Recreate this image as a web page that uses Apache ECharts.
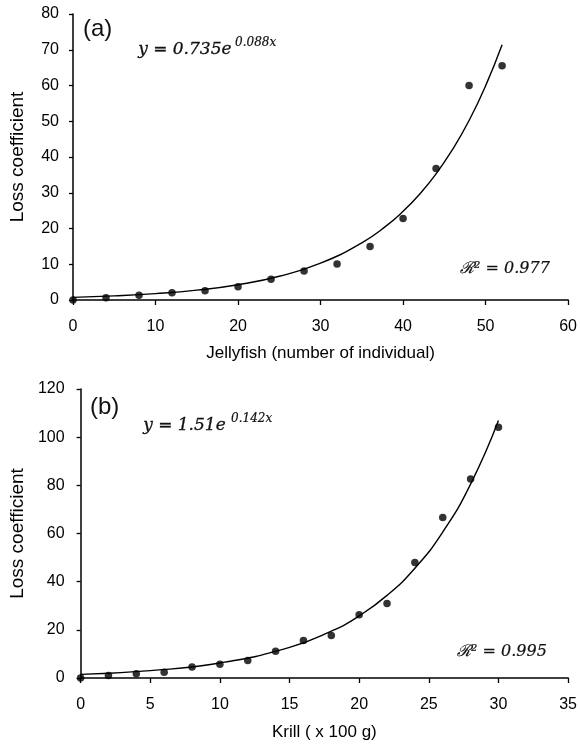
<!DOCTYPE html>
<html>
<head>
<meta charset="utf-8">
<style>
  html, body { margin: 0; padding: 0; background: #fff; }
  #chart { width: 580px; height: 749px; }
</style>
</head>
<body>
<div id="chart"></div>
<script src="https://cdn.jsdelivr.net/npm/echarts@6/dist/echarts.min.js"></script>
<script>
// (a) jellyfish
var jellyX = [0, 4, 8, 12, 16, 20, 24, 28, 32, 36, 40, 44, 48, 52];
var jellyY = [0, 0.65, 1.3, 2.05, 2.6, 3.7, 5.8, 8.1, 10.1, 15.0, 22.8, 36.8, 60.0, 65.5];
// fitted curve
var jellyFitX = [0, 5, 10, 15, 20, 25, 30, 35, 38, 40, 42, 44, 46, 48, 50, 52];
var jellyFitY = [0.74, 1.14, 1.77, 2.75, 4.27, 6.63, 10.3, 16.0, 20.8, 24.8, 29.6, 35.3, 42.1, 50.2, 59.9, 71.4];

// (b) krill
var krillX = [0, 2, 4, 6, 8, 10, 12, 14, 16, 18, 20, 22, 24, 26, 28, 30];
var krillY = [0, 1.0, 1.8, 2.4, 4.6, 5.7, 7.3, 11.1, 15.6, 17.6, 26.3, 30.9, 48.0, 66.6, 82.6, 104.1];
var krillFitX = [0, 5, 10, 15, 18, 20, 22, 24, 26, 28, 30];
var krillFitY = [1.51, 3.07, 6.25, 12.7, 19.45, 25.8, 34.3, 45.6, 60.6, 80.5, 106.9];

function pairs(xs, ys) {
  return xs.map(function (x, i) { return [x, ys[i]]; });
}

var chart = echarts.init(document.getElementById('chart'));

var sans = 'Liberation Sans, Arial, sans-serif';
var tickFont = { fontFamily: sans, fontSize: 16, color: '#000' };
var axisLine = { show: true, onZero: false, lineStyle: { color: '#000', width: 1.5 } };
var axisTick = { show: true, inside: false, length: 5, lineStyle: { color: '#000', width: 1.3 } };
var eqFont = 'italic 17px "DejaVu Serif", serif';
var supFont = 'italic 12px "DejaVu Serif", serif';

function txt(left, top, text, font, lw) {
  return { type: 'text', left: left, top: top,
    style: { text: text, font: font, fill: '#111', stroke: '#111', lineWidth: lw } };
}

chart.setOption({
  animation: false,
  backgroundColor: '#fff',
  grid: [
    { left: 72, top: 14, width: 497, height: 286 },
    { left: 78, top: 389, width: 491, height: 289 }
  ],
  xAxis: [
    {
      gridIndex: 0, type: 'value', min: 0, max: 60, interval: 10,
      name: 'Jellyfish (number of individual)', nameLocation: 'middle', nameGap: 45,
      nameTextStyle: { fontFamily: sans, fontSize: 17, color: '#000' },
      axisLine: axisLine, axisTick: axisTick, splitLine: { show: false },
      axisLabel: Object.assign({ margin: 19 }, tickFont)
    },
    {
      gridIndex: 1, type: 'value', min: 0, max: 35, interval: 5,
      name: 'Krill ( x 100 g)', nameLocation: 'middle', nameGap: 46,
      nameTextStyle: { fontFamily: sans, fontSize: 17, color: '#000' },
      axisLine: axisLine, axisTick: axisTick, splitLine: { show: false },
      axisLabel: Object.assign({ margin: 19 }, tickFont)
    }
  ],
  yAxis: [
    {
      gridIndex: 0, type: 'value', min: 0, max: 80, interval: 10,
      name: 'Loss coefficient', nameLocation: 'middle', nameGap: 46,
      nameTextStyle: { fontFamily: sans, fontSize: 19, color: '#000' },
      axisLine: axisLine, axisTick: Object.assign({}, axisTick, { length: 4 }), splitLine: { show: false },
      axisLabel: Object.assign({ margin: 14 }, tickFont)
    },
    {
      gridIndex: 1, type: 'value', min: 0, max: 120, interval: 20,
      name: 'Loss coefficient', nameLocation: 'middle', nameGap: 52,
      nameTextStyle: { fontFamily: sans, fontSize: 19, color: '#000' },
      axisLine: axisLine, axisTick: Object.assign({}, axisTick, { length: 4 }), splitLine: { show: false },
      axisLabel: Object.assign({ margin: 16 }, tickFont)
    }
  ],
  series: [
    {
      type: 'line', xAxisIndex: 0, yAxisIndex: 0, smooth: true, showSymbol: false,
      lineStyle: { color: '#000', width: 1.4 }, data: pairs(jellyFitX, jellyFitY), z: 2
    },
    {
      type: 'scatter', xAxisIndex: 0, yAxisIndex: 0, symbol: 'circle', symbolSize: 7.5,
      itemStyle: { color: '#000' }, clip: false, data: pairs(jellyX, jellyY), z: 3
    },
    {
      type: 'line', xAxisIndex: 1, yAxisIndex: 1, smooth: true, showSymbol: false,
      lineStyle: { color: '#000', width: 1.4 }, data: pairs(krillFitX, krillFitY), z: 2
    },
    {
      type: 'scatter', xAxisIndex: 1, yAxisIndex: 1, symbol: 'circle', symbolSize: 7.5,
      itemStyle: { color: '#000' }, clip: false, data: pairs(krillX, krillY), z: 3
    }
  ],
  graphic: [
    txt(83, 17, '(a)', '24px ' + sans, 0),
    txt(138, 41, 'y = 0.735e', eqFont, 0.3),
    txt(235, 37, '0.088x', supFont, 0.2),
    txt(460, 261, 'ℛ² = 0.977', 'italic 16px "DejaVu Serif", serif', 0.2),

    txt(90, 395, '(b)', '24px ' + sans, 0),
    txt(143, 417, 'y = 1.51e', eqFont, 0.3),
    txt(231, 413, '0.142x', supFont, 0.2),
    txt(457, 644, 'ℛ² = 0.995', 'italic 16px "DejaVu Serif", serif', 0.2)
  ]
});
</script>
</body>
</html>
